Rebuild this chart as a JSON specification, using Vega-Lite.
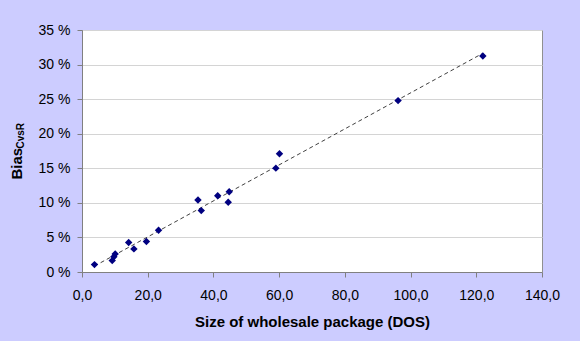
{
  "$schema": "https://vega.github.io/schema/vega-lite/v6.json",
  "width": 460,
  "height": 242,
  "autosize": {"type": "none"},
  "padding": {"left": 82, "top": 30, "right": 38, "bottom": 69},
  "background": "#CCCCFF",
  "config": {
    "view": {"fill": "white", "stroke": "#909090"},
    "font": "Liberation Sans",
    "axis": {"labelColor": "black", "titleColor": "black", "labelFont": "Liberation Sans", "titleFont": "Liberation Sans"}
  },
  "data": {
    "values": [
      {"size": 3.8, "bias": 1.07},
      {"size": 9.2, "bias": 1.65},
      {"size": 9.7, "bias": 2.2},
      {"size": 10.1, "bias": 2.62},
      {"size": 14.2, "bias": 4.26},
      {"size": 15.8, "bias": 3.34},
      {"size": 19.6, "bias": 4.4},
      {"size": 23.3, "bias": 6.04},
      {"size": 35.3, "bias": 10.42},
      {"size": 36.3, "bias": 8.88},
      {"size": 41.3, "bias": 11.02},
      {"size": 44.5, "bias": 10.09},
      {"size": 44.8, "bias": 11.6},
      {"size": 59.0, "bias": 15.02},
      {"size": 60.1, "bias": 17.1},
      {"size": 96.2, "bias": 24.79},
      {"size": 122.0, "bias": 31.25}
    ]
  },
  "encoding": {
    "x": {
      "field": "size",
      "type": "quantitative",
      "scale": {"domain": [0, 140], "nice": false, "zero": false},
      "axis": {
        "title": "Size of wholesale package (DOS)",
        "values": [0, 20, 40, 60, 80, 100, 120, 140],
        "labelExpr": "replace(format(datum.value, '.1f'), '.', ',')",
        "grid": false,
        "labelFlush": false,
        "labelOverlap": false,
        "domainColor": "#808080",
        "tickColor": "#808080",
        "tickSize": 5,
        "labelPadding": 11,
        "labelFontSize": 14,
        "titleFontSize": 15,
        "titleFontWeight": "bold",
        "titleY": 54,
        "titleBaseline": "alphabetic"
      }
    }
  },
  "layer": [
    {
      "transform": [{"regression": "bias", "on": "size"}],
      "mark": {"type": "line", "color": "#404040", "strokeDash": [4, 3], "strokeWidth": 1},
      "encoding": {
        "y": {
          "field": "bias",
          "type": "quantitative",
          "scale": {"domain": [0, 35], "nice": false},
          "axis": {
            "orient": "left",
            "title": "CvsR",
            "labels": false,
            "ticks": false,
            "domain": false,
            "grid": false,
            "titleFontSize": 10,
            "titleFontWeight": "bold",
            "titleAngle": -90,
            "titleX": -59,
            "titleY": 118,
            "titleAlign": "left",
            "titleBaseline": "alphabetic"
          }
        }
      }
    },
    {
      "mark": {"type": "point", "shape": "diamond", "filled": true, "color": "#000080", "size": 55, "opacity": 1},
      "encoding": {
        "y": {
          "field": "bias",
          "type": "quantitative",
          "scale": {"domain": [0, 35], "nice": false},
          "axis": {
            "orient": "left",
            "title": "Bias",
            "values": [0, 5, 10, 15, 20, 25, 30, 35],
            "labelExpr": "datum.value + ' %'",
            "grid": true,
            "gridColor": "#D4D4D4",
            "domainColor": "#808080",
            "tickColor": "#808080",
            "tickSize": 5,
            "labelPadding": 7,
            "labelFontSize": 14,
            "titleFontSize": 15,
            "titleFontWeight": "bold",
            "titleAngle": -90,
            "titleX": -61,
            "titleY": 149,
            "titleAlign": "left",
            "titleBaseline": "alphabetic"
          }
        }
      }
    }
  ],
  "resolve": {"scale": {"y": "independent"}}
}
